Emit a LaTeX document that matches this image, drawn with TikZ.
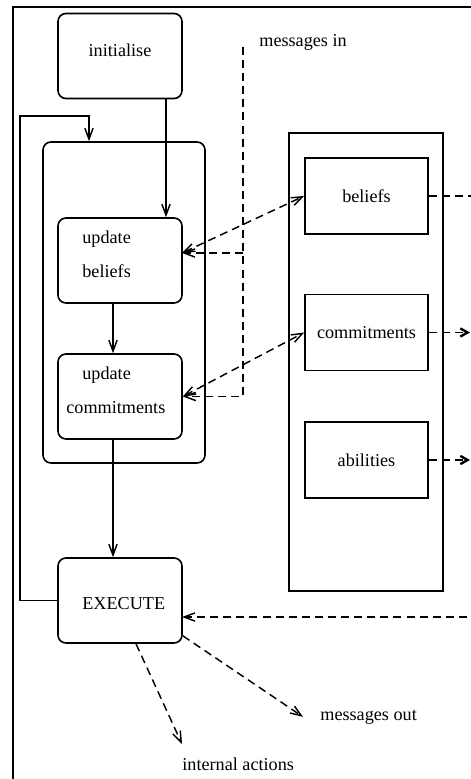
\documentclass[tikz,border=0pt]{standalone}
\usepackage{fontspec}
\setmainfont{Liberation Serif}
\usetikzlibrary{arrows.meta,positioning}

\begin{document}
\begin{tikzpicture}[x=0.55pt,y=-0.55pt,
  rbox/.style={rectangle,rounded corners=4.4pt,draw=black,line width=0.9pt,minimum width=68.2pt,minimum height=46.75pt,inner sep=0pt},
  sbox/.style={rectangle,draw=black,line width=0.9pt,minimum width=67.65pt,minimum height=41.8pt,inner sep=0pt},
  lbl/.style={inner sep=0pt},
  arr/.style={line width=0.8pt,-{Straight Barb[length=6pt,width=4.5pt]}},
  dsh/.style={line width=0.8pt,dash pattern=on 4.4pt off 2.8pt},
  darr/.style={arr,dsh},
  ddarr/.style={darr,{Straight Barb[length=6pt,width=4.5pt]}-{Straight Barb[length=6pt,width=4.5pt]}},
  oarr/.style={dsh,-{Straight Barb[length=4pt,width=4.5pt,line width=1.3pt]}}]
\useasboundingbox (0,0) rectangle (471,779);
\clip (0,0) rectangle (471,779);
\draw[line width=1.6pt] (13,790) -- (13,7) -- (480,7);
% control loop
\node at (120,56)[rbox](in){};
\node at (120,57)[lbl,anchor=base](in-t){initialise};
\node at (124,302.5)[rbox,minimum width=89.1pt,minimum height=176.55pt](grp){};
\node at (120,260.5)[rbox](ub){};
\node at (82,243)[lbl,anchor=base west](ub-t1){update};
\node at (82,277)[lbl,anchor=base west](ub-t2){beliefs};
\node at (120,396.5)[rbox](uc){};
\node at (82,379)[lbl,anchor=base west](uc-t1){update};
\node at (66,413)[lbl,anchor=base west](uc-t2){commitments};
\node at (120,600.5)[rbox](ex){};
\node at (82,609)[lbl,anchor=base west](ex-t){EXECUTE};
% agent state
\node at (366,362)[sbox,minimum width=84.7pt,minimum height=251.9pt](kb){};
\node at (366.5,196)[sbox](bl){beliefs};
\node at (366.5,332.5)[sbox](cm){commitments};
\node at (366.5,460)[sbox](ab){abilities};
% free labels
\node at (259,47)[lbl,anchor=base west](msgin){messages in};
\node at (320,720)[lbl,anchor=base west](msgout){messages out};
\node at (182,770)[lbl,anchor=base west](intact){internal actions};
\coordinate (mtop) at (243,47);
\coordinate (ubin) at (182,253);
\coordinate (lp) at (20,116);
\coordinate (blr) at (480,196);
\coordinate (cmr) at (470,332.5);
\coordinate (abr) at (470,460);
\coordinate (exr) at (480,617);
\coordinate (exin) at (182,617);
% connectors
\draw[arr] ([xshift=25.3pt]in.south) -- ([xshift=25.3pt]ub.north);
\draw[arr] ([xshift=-3.85pt]ub.south) -- ([xshift=-3.85pt]uc.north);
\draw[arr] ([xshift=-3.85pt]uc.south) -- ([xshift=-3.85pt]ex.north);
\draw[arr] (ex.west) -| (lp) -| ([xshift=-19.25pt]grp.north);
\draw[darr] (mtop) |- (uc.east);
\draw[darr] (mtop |- ubin) -- (ubin);
\draw[ddarr] (ubin) -- (bl.west);
\draw[ddarr] (uc.east) -- (cm.west);
\draw[dsh] (bl.east) -- (blr);
\draw[oarr] (cm.east) -- (cmr);
\draw[oarr] (ab.east) -- (abr);
\draw[darr] (exr) -- (exin);
\draw[darr] ([yshift=4.4pt]ex.south east) -- ([xshift=-9.35pt]msgout.west);
\draw[darr] ([xshift=8.8pt]ex.south) -- ([yshift=7.15pt]intact.north west);
\end{tikzpicture}
\end{document}
